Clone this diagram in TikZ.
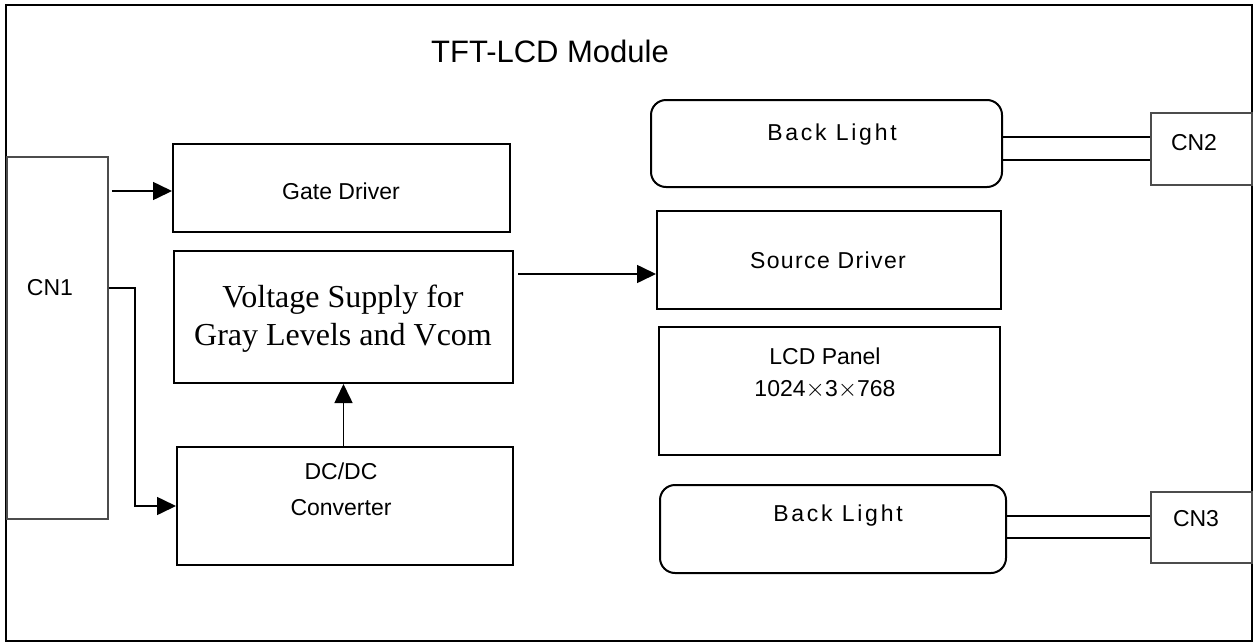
\documentclass[tikz,border=0pt]{standalone}
\usepackage{fontspec}
\setmainfont{Liberation Sans}
\newfontfamily\tnr{Liberation Serif}
\newfontfamily\blfont[LetterSpace=12]{Liberation Sans}
\newfontfamily\sdfont[LetterSpace=6]{Liberation Sans}
\usetikzlibrary{arrows.meta}
\tikzset{
  blk/.style={draw=black, line width=2pt, rectangle, inner sep=0pt},
  conn/.style={draw=black!70, line width=1.6pt, rectangle, inner sep=0pt},
  lbl/.style={inner sep=0pt, align=center, font=\fontsize{23}{32}\selectfont},
  arr/.style={line width=1.6pt, -{Triangle[length=19pt,width=18pt]}},
  wire/.style={line width=1.6pt},
}
\begin{document}
\begin{tikzpicture}[x=1pt,y=-1pt]
\useasboundingbox (0,0) rectangle (1254,643);
% outer frame
\draw[line width=2.2pt] (6,5) rectangle (1252,641);
\node[inner sep=0pt, font=\fontsize{31}{36}\selectfont] (title) at (550,51) {TFT-LCD Module};

% CN1
\node[conn, minimum width=101pt, minimum height=362pt] (cn1) at (57.5,338) {};
\node[lbl] (cn1lbl) at (50,288) {CN1};

% Gate driver
\node[blk, minimum width=337pt, minimum height=88pt] (gate) at (341.5,188) {};
\node[lbl] (gatelbl) at (341,191) {Gate Driver};

% Voltage supply
\node[blk, minimum width=339pt, minimum height=132pt] (volt) at (343.5,317) {};
\node[inner sep=0pt, align=center, font=\tnr\fontsize{32}{38}\selectfont] (voltlbl) at (343,319) {Voltage Supply for\\Gray Levels and Vcom};

% DC/DC
\node[blk, minimum width=336pt, minimum height=118pt] (dcdc) at (345,506) {};
\node[lbl, font=\fontsize{23}{36}\selectfont] (dcdclbl) at (341,489) {DC/DC\\Converter};

% Source driver
\node[blk, minimum width=344pt, minimum height=98pt] (src) at (829,260) {};
\node[lbl, font=\sdfont\fontsize{23}{28}\selectfont] (srclbl) at (828,260) {Source Driver};

% LCD panel
\node[blk, minimum width=341pt, minimum height=128pt] (lcd) at (829.5,391) {};
\node[lbl] (lcdlbl) at (825,373) {LCD Panel\\1024$\times$3$\times$768};

% Back lights
\node[blk, rounded corners=15pt, minimum width=351pt, minimum height=87pt] (bl1) at (826.5,143.5) {};
\node[lbl, font=\blfont\fontsize{23}{28}\selectfont] (bl1lbl) at (832,135) {Back Light};
\node[blk, rounded corners=15pt, minimum width=346pt, minimum height=88pt] (bl2) at (833,529) {};
\node[lbl, font=\blfont\fontsize{23}{28}\selectfont] (bl2lbl) at (838,516) {Back Light};

% CN2 / CN3
\node[conn, minimum width=101pt, minimum height=72pt] (cn2) at (1201.5,149) {};
\node[lbl] (cn2lbl) at (1194,143) {CN2};
\node[conn, minimum width=101pt, minimum height=71pt] (cn3) at (1201.5,527.5) {};
\node[lbl] (cn3lbl) at (1196,519) {CN3};

% connectors
\draw[arr] ([xshift=3pt]cn1.east |- gatelbl) -- (gate.west |- gatelbl);
\draw[arr] (cn1.east |- cn1lbl) -- ++(26,0) |- (dcdc.west);
\coordinate (vs) at (518,274);
\draw[arr] (vs) -- (vs -| src.west);
\draw[arr] (dcdc.north -| volt.south) -- (volt.south);

\coordinate (b1a) at (1002,137);
\coordinate (b1b) at (1002,160);
\draw[wire] (b1a) -- (b1a -| cn2.west);
\draw[wire] (b1b) -- (b1b -| cn2.west);
\coordinate (b2a) at (1006,516);
\coordinate (b2b) at (1006,538);
\draw[wire] (b2a) -- (b2a -| cn3.west);
\draw[wire] (b2b) -- (b2b -| cn3.west);
\end{tikzpicture}
\end{document}
